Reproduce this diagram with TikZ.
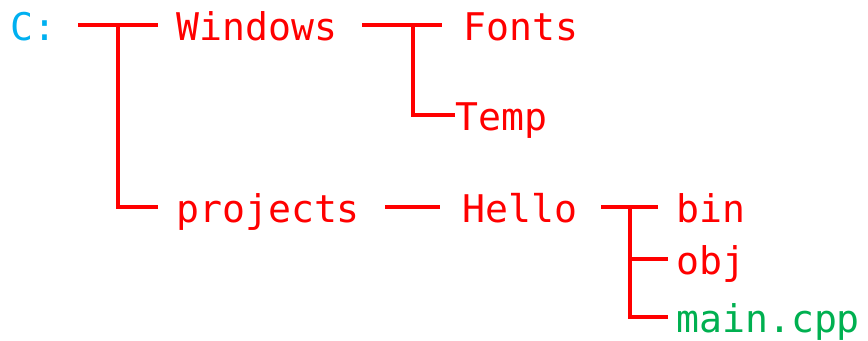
\documentclass[tikz,border=0pt]{standalone}
\usepackage{fontspec}
\setmonofont{DejaVu Sans Mono}
\definecolor{drivecyan}{RGB}{0,176,240}
\definecolor{dirred}{RGB}{255,0,0}
\definecolor{filegreen}{RGB}{0,176,80}
\tikzset{every picture/.style={/utils/exec={\ttfamily}}}

\begin{document}
\begin{tikzpicture}[x=0.75pt, y=-0.75pt,
    entry/.style={anchor=west, inner sep=0pt, text height=22.5pt, text depth=0pt,
      font=\fontsize{28.6}{34}\selectfont\ttfamily, text=dirred},
    branch/.style={draw=dirred, line width=3pt}]
  \useasboundingbox (0,0) rectangle (868,340);

  % folders and files
  \node [entry, text=drivecyan] (drive) at (10,25) {C:};
  \node [entry] (windows) at (176,25) {Windows};
  \node [entry] (fonts) at (463,25) {Fonts};
  \node [entry] (temp) at (455,115) {Temp};
  \node [entry] (projects) at (176,207) {projects};
  \node [entry] (hello) at (462,207) {Hello};
  \node [entry] (bin) at (676,207) {bin};
  \node [entry] (obj) at (676,259) {obj};
  \node [entry, text=filegreen] (maincpp) at (676,317) {main.cpp};

  % forks
  \coordinate (rootfork) at (118,25);
  \coordinate (winfork) at (413,25);
  \coordinate (hellofork) at (630,207);

  \draw [branch] ([xshift=16.5pt]drive.east) -- ([xshift=-13.5pt]windows.west);
  \draw [branch] (rootfork) |- ([xshift=-13.5pt]projects.west);

  \draw [branch] ([xshift=18.75pt]windows.east) -- ([xshift=-15.75pt]fonts.west);
  \draw [branch] (winfork) |- (temp.west);

  \draw [branch] ([xshift=18.75pt]projects.east) -- ([xshift=-16.5pt]hello.west);

  \draw [branch] ([xshift=18pt]hello.east) -- ([xshift=-13.5pt]bin.west);
  \draw [branch] (hellofork) |- ([xshift=-6pt]obj.west);
  \draw [branch] (hellofork) |- ([xshift=-6pt]maincpp.west);
\end{tikzpicture}
\end{document}
